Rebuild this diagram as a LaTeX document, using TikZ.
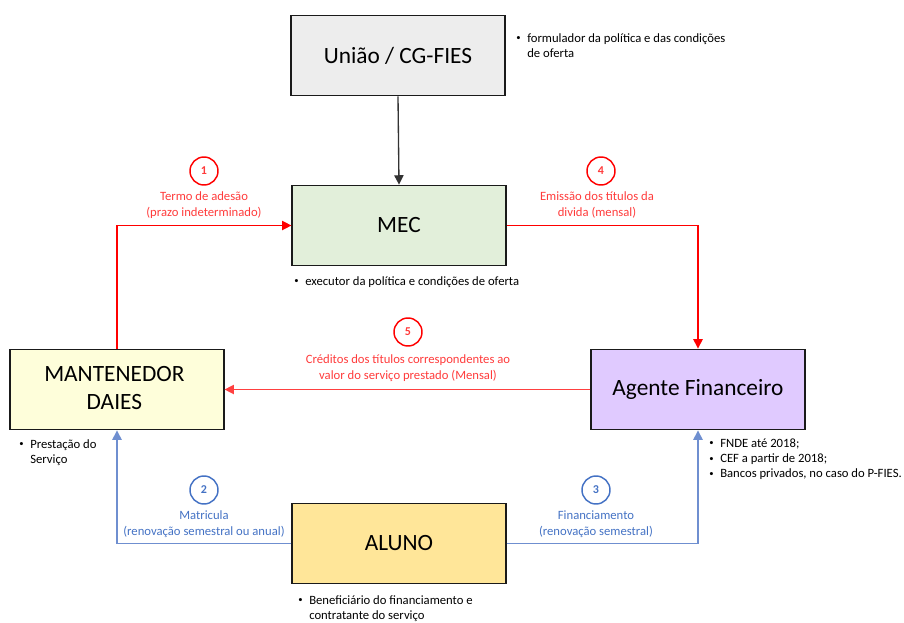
\documentclass[tikz,border=0pt]{standalone}
\usepackage{fontspec}
\setmainfont{Carlito}
\usetikzlibrary{arrows.meta}

\definecolor{boxline}{HTML}{1A1A1A}
\definecolor{redline}{HTML}{FF0000}
\definecolor{redtext}{HTML}{FF3B3B}
\definecolor{bluetext}{HTML}{4472C4}
\definecolor{blueline}{HTML}{6F8FD0}
\definecolor{uniaofill}{HTML}{EDEDED}
\definecolor{mecfill}{HTML}{E2EFDA}
\definecolor{mantfill}{HTML}{FEFEDA}
\definecolor{agentefill}{HTML}{E0CAFF}
\definecolor{alunofill}{HTML}{FFE699}

\tikzstyle{block} = [rectangle, draw=boxline, line width=1.4pt, minimum width=160pt, minimum height=60pt, inner sep=0pt, align=center, font=\fontsize{17.5}{21}\selectfont]
\tikzstyle{arrow} = [line width=1pt,->,>={Triangle[length=7pt,width=7pt]}]
\tikzstyle{numcircle} = [circle, draw, line width=1.1pt, minimum size=21pt, inner sep=0pt, font=\fontsize{9}{10}\selectfont\bfseries]
\tikzstyle{lbl} = [align=center, inner sep=0pt, font=\fontsize{9.5}{11.6}\selectfont]
\tikzstyle{note} = [anchor=base west, inner sep=0pt, font=\fontsize{9.5}{11.6}\selectfont]

\newcommand{\notelist}[1]{\begin{tabular}[t]{@{}l@{\hspace{5pt}}l@{}}#1\end{tabular}}
\newcommand{\dotitem}{\raisebox{0.8pt}{\fontsize{6.5}{6.5}\selectfont •}}

\begin{document}
\begin{tikzpicture}[x = 0.75pt, y = -0.75pt]

% ----------------------------------------------------

% helper grid (comment out once you're done!)
%\draw[help lines,step=10,thin,gray!20] (0,0) grid (904, 622);
%\draw[help lines,step=50,gray!40,very thick] (0,0) grid (904, 622);
%
% ----------------------------------------------------

  \useasboundingbox (0,0) rectangle (904,622);

  \node (uniao) [block, fill=uniaofill] at (398, 55.5) {União / CG-FIES};
  \node (mec) [block, fill=mecfill] at (399, 225.5) {MEC};
  \node (mantenedor) [block, fill=mantfill] at (117, 389.5) {
  \begin{tabular}{c}
    MANTENEDOR \\
    DAIES
  \end{tabular}
  };
  \node (agente) [block, fill=agentefill] at (698, 389.5) {Agente Financeiro};
  \node (aluno) [block, fill=alunofill] at (399, 543.5) {ALUNO};

  \draw[arrow, black!80] (uniao.south) -- (mec.north);
  \draw[arrow, redline] (mantenedor.north) |- (mec.west);
  \draw[arrow, redline] (mec.east) -| (agente.north);
  \draw[arrow, redline!75] (agente.west) -- (mantenedor.east);
  \draw[arrow, blueline] (aluno.west) -| (mantenedor.south);
  \draw[arrow, blueline] (aluno.east) -| (agente.south);

% step numbers and labels
  \node (num1) [numcircle, redline] at (204, 171) {\textcolor{redtext}{1}};
  \node (lbl1) [lbl, text=redtext] at (204, 205) {Termo de adesão \\ (prazo indeterminado)};
  \node (num4) [numcircle, redline] at (601, 171) {\textcolor{redtext}{4}};
  \node (lbl4) [lbl, text=redtext] at (597, 205) {Emissão dos títulos da \\ divida (mensal)};
  \node (num5) [numcircle, redline] at (408, 332) {\textcolor{redtext}{5}};
  \node (lbl5) [lbl, text=redtext] at (408, 368) {Créditos dos títulos correspondentes ao \\ valor do serviço prestado (Mensal)};
  \node (num2) [numcircle, bluetext] at (204, 490) {2};
  \node (lbl2) [lbl, text=bluetext] at (204, 524) {Matricula \\ (renovação semestral ou anual)};
  \node (num3) [numcircle, bluetext] at (596, 490) {3};
  \node (lbl3) [lbl, text=bluetext] at (596, 524) {Financiamento \\ (renovação semestral)};

% notes
  \node (uniaonote) [note] at (516, 42) {\notelist{\dotitem & formulador da política e das condições \\ & de oferta}};
  \node (mecnote) [note] at (294, 285) {\notelist{\dotitem & executor da política e condições de oferta}};
  \node (mantnote) [note] at (19, 448) {\notelist{\dotitem & Prestação do \\ & Serviço}};
  \node (agentenote) [note] at (709, 447) {\notelist{\dotitem & FNDE até 2018; \\ \dotitem & CEF a partir de 2018; \\ \dotitem & Bancos privados, no caso do P-FIES.}};
  \node (alunonote) [note] at (298, 604) {\notelist{\dotitem & Beneficiário do financiamento e \\ & contratante do serviço}};

\end{tikzpicture}
\end{document}
